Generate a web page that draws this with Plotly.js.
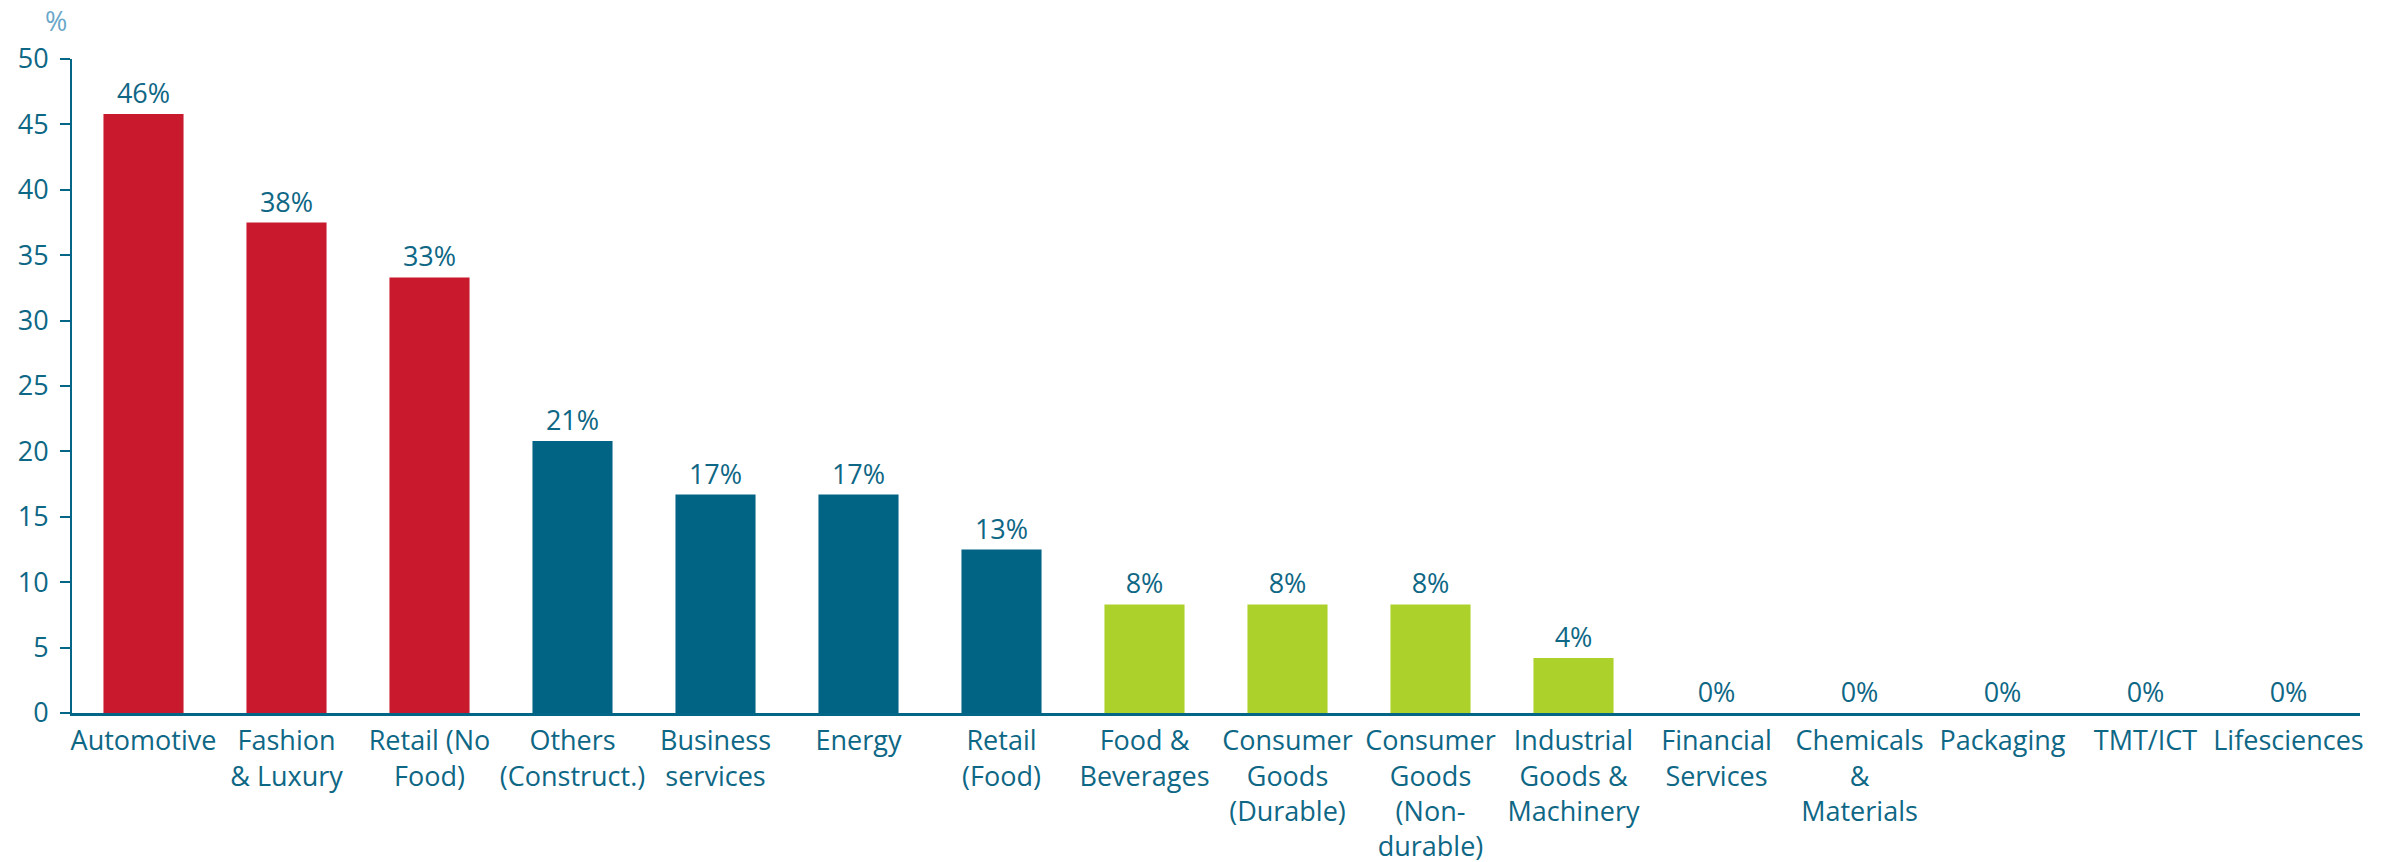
<!DOCTYPE html>
<html>
<head>
<meta charset="utf-8">
<script src="https://cdn.plot.ly/plotly-3.0.1.min.js"></script>
<style>html,body{margin:0;padding:0;background:#fff;}#chart{width:2395px;height:862px;}</style>
</head>
<body>
<div id="chart"></div>
<script>
// ---- data ----
const categories = [
  "Automotive", "Fashion<br>& Luxury", "Retail (No<br>Food)", "Others<br>(Construct.)",
  "Business<br>services", "Energy", "Retail<br>(Food)", "Food &<br>Beverages",
  "Consumer<br>Goods<br>(Durable)", "Consumer<br>Goods<br>(Non-<br>durable)",
  "Industrial<br>Goods &<br>Machinery", "Financial<br>Services", "Chemicals<br>&<br>Materials",
  "Packaging", "TMT/ICT", "Lifesciences"
];
const values = [45.8, 37.5, 33.3, 20.8, 16.7, 16.7, 12.5, 8.3, 8.3, 8.3, 4.2, 0, 0, 0, 0, 0];
const groups = ["high", "high", "high", "mid", "mid", "mid", "mid", "low", "low", "low", "low", "low", "low", "low", "low", "low"];
const yTicks = [0, 5, 10, 15, 20, 25, 30, 35, 40, 45, 50];

// ---- style ----
const groupColour = { high: "#C8192D", mid: "#026485", low: "#ABD12A" };
const textColour = "#0E6785";
const fontFamily = "'Open Sans', 'Noto Sans', sans-serif";
const fs = 27;

const trace = {
  type: "bar",
  x: categories,
  y: values,
  marker: { color: groups.map(g => groupColour[g]) },
  texttemplate: "%{y:.0f}%",
  textposition: "outside",
  cliponaxis: false,
  textfont: { family: fontFamily, size: fs, color: textColour },
  hoverinfo: "skip"
};

const layout = {
  width: 2395,
  height: 862,
  margin: { l: 72, r: 35, t: 59, b: 149 },
  paper_bgcolor: "#fff",
  plot_bgcolor: "#fff",
  showlegend: false,
  bargap: 0.44,
  font: { family: fontFamily, size: fs, color: textColour },
  xaxis: {
    type: "category",
    showline: true,
    linecolor: "#036687",
    linewidth: 3,
    ticks: "",
    showgrid: false,
    zeroline: false,
    tickfont: { family: fontFamily, size: fs, color: textColour },
    ticklabelstandoff: 2,
    fixedrange: true
  },
  yaxis: {
    range: [0, 50],
    tickvals: yTicks,
    ticktext: yTicks.map(String),
    showline: true,
    linecolor: "#036687",
    linewidth: 2,
    ticks: "outside",
    ticklen: 10,
    tickwidth: 2,
    tickcolor: "#036687",
    showgrid: false,
    zeroline: false,
    tickfont: { family: fontFamily, size: fs, color: textColour },
    ticklabelstandoff: 6,
    fixedrange: true
  },
  annotations: [{
    text: "%",
    xref: "paper", yref: "paper",
    x: 0, y: 1,
    xshift: -29, yshift: 18,
    xanchor: "left", yanchor: "bottom",
    showarrow: false,
    font: { family: fontFamily, size: fs, color: "#6AA7C9" }
  }]
};

Plotly.newPlot("chart", [trace], layout, { displayModeBar: false, staticPlot: true });
</script>
</body>
</html>
